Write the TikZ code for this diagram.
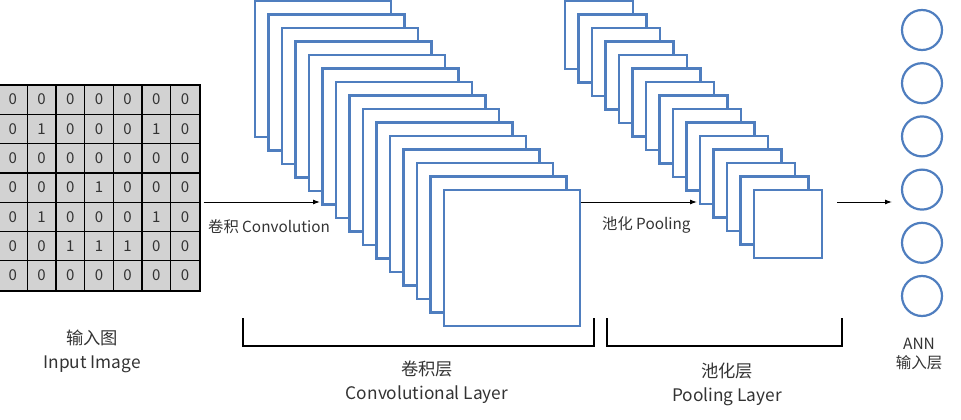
\documentclass[tikz,border=0pt]{standalone}
\usepackage{fontspec}
\setmainfont{Noto Sans CJK SC}
\usetikzlibrary{arrows.meta}
\definecolor{fb}{HTML}{4F7EBF}
\definecolor{tx}{HTML}{333333}
\tikzset{
  fmap/.style={draw=fb,line width=2.2pt,fill=white},
  conn/.style={draw=black,line width=1pt,-{Latex[length=7pt,width=5pt]}},
  brk/.style={draw=black,line width=1.4pt},
  lbl/.style={text=tx,font=\fontsize{15.3}{17}\selectfont,inner sep=1pt},
  anntxt/.style={text=tx,font=\fontsize{15.5}{19}\selectfont,inner sep=1pt,align=center},
  captxt/.style={text=tx,font=\fontsize{17.3}{24}\selectfont,inner sep=1pt,align=center},
  neuron/.style={circle,draw=fb,line width=2.2pt,minimum size=40pt,inner sep=0pt},
  cell/.style={draw=black,line width=1.2pt,fill=gray!35,minimum width=28.7pt,minimum height=29.3pt,inner sep=0pt,text=tx,font=\fontsize{15}{17}\selectfont}
}
\begin{document}
\begin{tikzpicture}[x=1pt,y=-1pt]
\useasboundingbox (0,0) rectangle (961,420);
% grid
\foreach [count=\r from 0] \row in {{0,0,0,0,0,0,0},{0,1,0,0,0,1,0},{0,0,0,0,0,0,0},{0,0,0,1,0,0,0},{0,1,0,0,0,1,0},{0,0,1,1,1,0,0},{0,0,0,0,0,0,0}}{
  \foreach [count=\c from 0] \v in \row {
    \node[cell] (g\r\c) at ({-1.5+14.35+28.7*\c},{85+14.65+29.3*\r}) {\v};
  }
}
\draw[line width=1.6pt] (g00.north west) rectangle (g66.south east);
% conv stack
\foreach \i in {0,...,14}{
  \draw[fmap] ({255+13.5*\i},{1+13.5*\i}) rectangle ++(136,136);
}
\node[inner sep=0] (convR) at (580,202) {};
% pool stack
\foreach \i in {0,...,14}{
  \draw[fmap] ({565+13.5*\i},{1+13.5*\i}) rectangle ++(68,68);
}
% neurons
\foreach \k in {0,...,5}{
  \node[neuron] (n\k) at (922,{30+53.2*\k}) {};
}
% arrows
\node[inner sep=0] (gR) at (203,202) {};
\coordinate (convIn) at (320,202);
\draw[conn] (gR) -- (convIn);
\coordinate (poolIn) at (697,202);
\draw[conn] (convR) -- (poolIn);
\coordinate (aS) at (837,202);
\coordinate (aE) at (892,202);
\draw[conn] (aS) -- (aE);
% labels
\node[lbl,anchor=west] (lc) at (207,227) {卷积 Convolution};
\node[lbl,anchor=west] (lp) at (601,225) {池化 Pooling};
% brackets
\draw[brk] (243,318) -- (243,346) -- (594,346) -- (594,318);
\draw[brk] (607,318) -- (607,346) -- (842,346) -- (842,318);
\node[captxt] (ci) at (92,351) {输入图\\Input Image};
\node[captxt] (cc) at (427,382) {卷积层\\Convolutional Layer};
\node[captxt] (cp) at (727,384) {池化层\\Pooling Layer};
\node[anntxt] (ca) at (919,354) {ANN\\输入层};
\end{tikzpicture}
\end{document}
